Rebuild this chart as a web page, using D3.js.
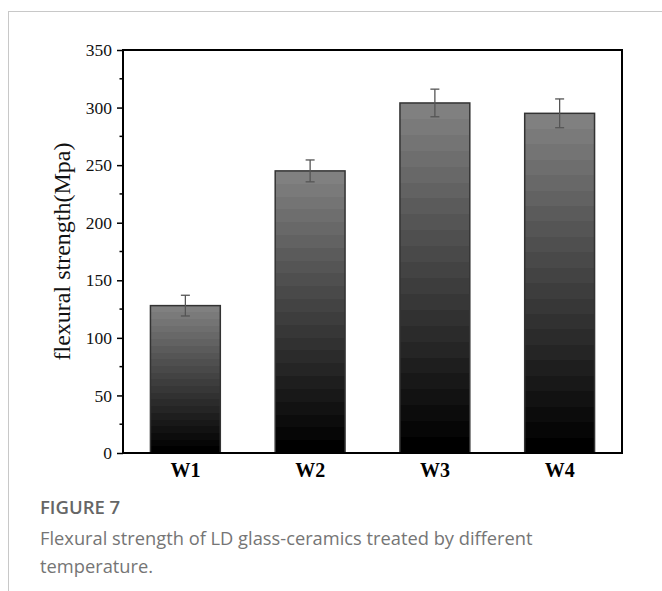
<!DOCTYPE html>
<html>
<head>
<meta charset="utf-8">
<script src="https://cdn.jsdelivr.net/npm/d3@7"></script>
<style>
  html, body { margin: 0; padding: 0; background: #fff; }
  svg { display: block; }
</style>
</head>
<body>
<svg id="chart" width="662" height="591"></svg>
<script>
// Flexural strength per heat-treatment group (MPa) with standard deviation
const categories = ["W1", "W2", "W3", "W4"];
const strength = [128, 245, 304, 295];
const errors = [9, 9.5, 12, 12.5];
const yTicks = [0, 50, 100, 150, 200, 250, 300, 350];
const yLabel = "flexural strength(Mpa)";
const figureTitle = "FIGURE 7";
const captionLines = [
  "Flexural strength of LD glass-ceramics treated by different",
  "temperature."
];

const svg = d3.select("#chart");
const W = 662, H = 591;
const plot = { left: 123, top: 50, right: 622, bottom: 453 };

// page frame lines
svg.append("line").attr("x1", 8).attr("y1", 11.5).attr("x2", W).attr("y2", 11.5)
  .attr("stroke", "#c8c8c8").attr("stroke-width", 1);
svg.append("line").attr("x1", 8.5).attr("y1", 11).attr("x2", 8.5).attr("y2", H)
  .attr("stroke", "#c8c8c8").attr("stroke-width", 1);

const x = d3.scaleBand().domain(categories)
  .range([plot.left, plot.right]).paddingInner(0.44).paddingOuter(0.22);
const y = d3.scaleLinear().domain([0, 350]).range([plot.bottom, plot.top]);

// stepped vertical gradient: grey at the top fading to black at the base
const defs = svg.append("defs");
const grad = defs.append("linearGradient").attr("id", "barFill")
  .attr("x1", 0).attr("y1", 0).attr("x2", 0).attr("y2", 1);
const steps = 22;
const shade = d3.scaleLinear().domain([0, steps - 1]).range([128, 0]);
for (let i = 0; i < steps; i++) {
  const v = Math.round(shade(i));
  const c = `rgb(${v},${v},${v})`;
  grad.append("stop").attr("offset", i / steps).attr("stop-color", c);
  grad.append("stop").attr("offset", (i + 1) / steps).attr("stop-color", c);
}

const data = categories.map((c, i) => ({ c, v: strength[i], e: errors[i] }));

// bars
svg.append("g").selectAll("rect").data(data).join("rect")
  .attr("x", d => x(d.c))
  .attr("y", d => y(d.v))
  .attr("width", x.bandwidth())
  .attr("height", d => y(0) - y(d.v))
  .attr("fill", "url(#barFill)")
  .attr("stroke", "#333")
  .attr("stroke-width", 1.5);

// error bars
const eb = svg.append("g").attr("stroke", "#555").attr("stroke-width", 1.3).attr("fill", "none");
data.forEach(d => {
  const cx = x(d.c) + x.bandwidth() / 2;
  eb.append("line").attr("x1", cx).attr("x2", cx).attr("y1", y(d.v + d.e)).attr("y2", y(d.v - d.e));
  eb.append("line").attr("x1", cx - 4.5).attr("x2", cx + 4.5).attr("y1", y(d.v + d.e)).attr("y2", y(d.v + d.e));
  eb.append("line").attr("x1", cx - 4.5).attr("x2", cx + 4.5).attr("y1", y(d.v - d.e)).attr("y2", y(d.v - d.e));
});

// frame around plot
svg.append("rect")
  .attr("x", plot.left).attr("y", plot.top)
  .attr("width", plot.right - plot.left).attr("height", plot.bottom - plot.top)
  .attr("fill", "none").attr("stroke", "#000").attr("stroke-width", 2);

// y axis: major ticks with labels, minor ticks in between
const yAxis = d3.axisLeft(y).tickValues(yTicks).tickSize(6).tickPadding(5).tickFormat(d3.format("d"));
const gy = svg.append("g").attr("transform", `translate(${plot.left},0)`).call(yAxis);
gy.select(".domain").remove();
gy.selectAll(".tick line").attr("stroke", "#000").attr("stroke-width", 1.5);
gy.selectAll(".tick text")
  .attr("font-family", "'Liberation Serif', 'Times New Roman', serif")
  .attr("font-size", 17.5).attr("fill", "#111");

const minor = yTicks.slice(0, -1).map(t => t + 25);
svg.append("g").selectAll("line").data(minor).join("line")
  .attr("x1", plot.left - 3.5).attr("x2", plot.left)
  .attr("y1", d => y(d)).attr("y2", d => y(d))
  .attr("stroke", "#000").attr("stroke-width", 1.5);

// x axis category labels
const xAxis = d3.axisBottom(x).tickSize(0).tickPadding(10);
const gx = svg.append("g").attr("transform", `translate(0,${plot.bottom})`).call(xAxis);
gx.select(".domain").remove();
gx.selectAll(".tick text")
  .attr("font-family", "'Liberation Serif', 'Times New Roman', serif")
  .attr("font-size", 20).attr("font-weight", "bold").attr("fill", "#000");

// y axis title
svg.append("text")
  .attr("transform", `translate(70,${(plot.top + plot.bottom) / 2}) rotate(-90)`)
  .attr("text-anchor", "middle")
  .attr("font-family", "'Liberation Serif', 'Times New Roman', serif")
  .attr("font-size", 24).attr("fill", "#111")
  .text(yLabel);

// caption
svg.append("text").attr("x", 40).attr("y", 514)
  .attr("font-family", "'Open Sans', Lato, sans-serif")
  .attr("font-size", 18.5).attr("font-weight", 600).attr("fill", "#666")
  .text(figureTitle);
svg.append("g").selectAll("text").data(captionLines).join("text")
  .attr("x", 40).attr("y", (d, i) => 545 + i * 28)
  .attr("font-family", "'Open Sans', Lato, sans-serif")
  .attr("font-size", 18.3).attr("fill", "#757575")
  .text(d => d);
</script>
</body>
</html>
